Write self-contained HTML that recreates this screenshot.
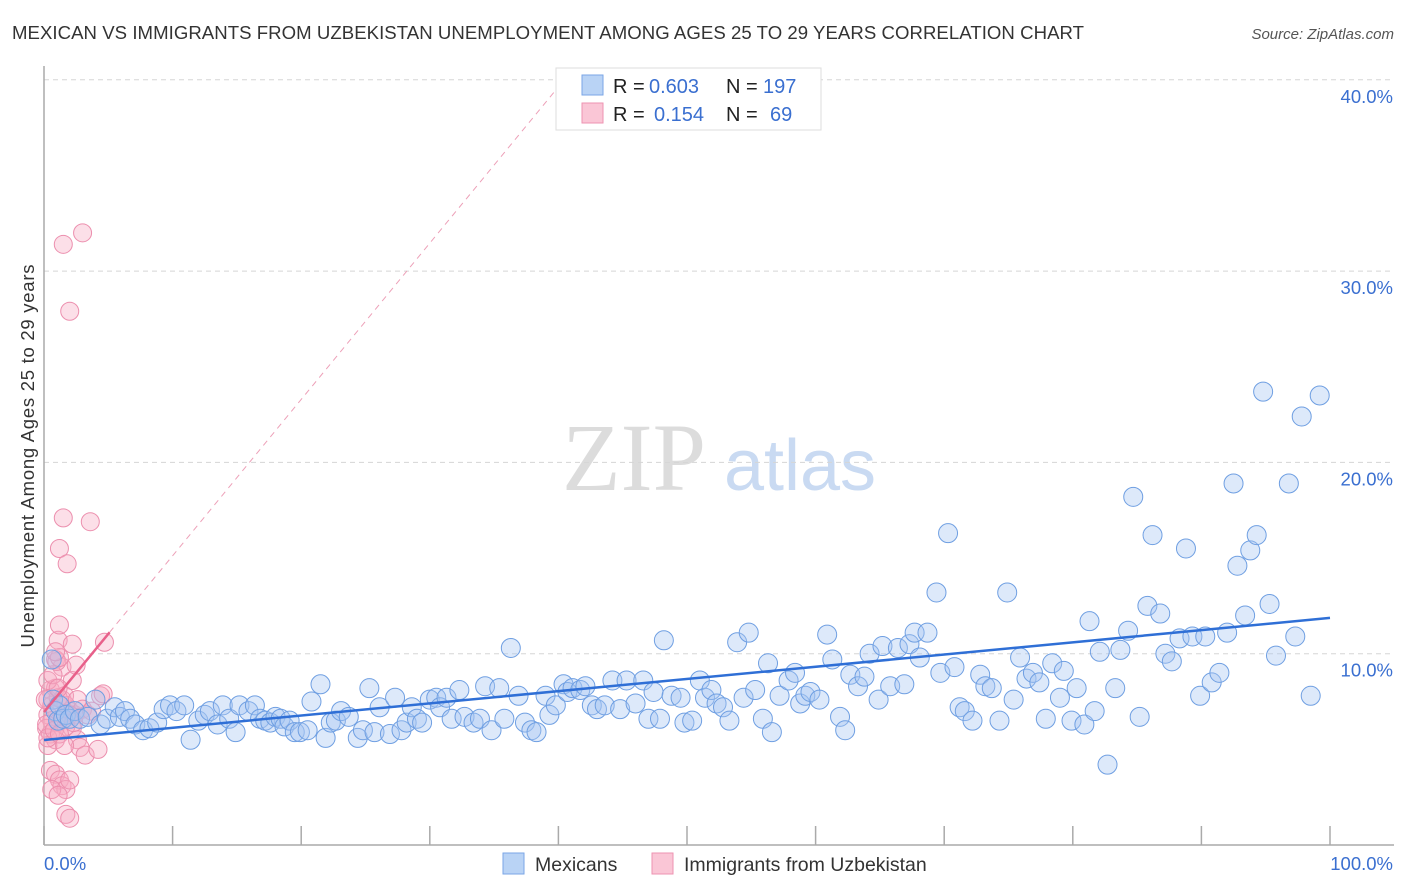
<!DOCTYPE html>
<html><head><meta charset="utf-8">
<style>
body{margin:0;background:#fff;font-family:"Liberation Sans",sans-serif;}
#wrap{position:relative;width:1406px;height:892px;overflow:hidden;}
</style></head>
<body>
<div id="wrap">
<svg id="svg" width="1406" height="892" xmlns="http://www.w3.org/2000/svg">
<text x="12" y="39" font-size="18.6" fill="#333" textLength="1072">MEXICAN VS IMMIGRANTS FROM UZBEKISTAN UNEMPLOYMENT AMONG AGES 25 TO 29 YEARS CORRELATION CHART</text>
<text x="1394" y="39" font-size="15" fill="#555" font-style="italic" text-anchor="end">Source: ZipAtlas.com</text>
<g>
<text x="634" y="490" font-size="96" font-family="Liberation Serif,serif" fill="#dcdcdc" text-anchor="middle">ZIP</text>
<text x="800" y="490" font-size="72" fill="#c9daf2" text-anchor="middle">atlas</text>
</g>
<g id="grid"></g>
<g id="axes"></g>
<g id="pinkPts"></g>
<g id="bluePts"></g>
<g id="trends"></g>
<text transform="translate(34,456) rotate(-90)" font-size="18.5" fill="#333" text-anchor="middle" textLength="383">Unemployment Among Ages 25 to 29 years</text>
<g>
<rect x="556" y="68" width="265" height="62" fill="#fff" stroke="#ddd"/>
<rect x="582" y="75" width="21" height="20" fill="#b9d3f5" stroke="#7aa6e6"/>
<rect x="582" y="103" width="21" height="20" fill="#fac6d6" stroke="#ee93b1"/>
<text x="613" y="93" font-size="20" fill="#222">R = <tspan x="649" fill="#3a6fd0">0.603</tspan><tspan x="726">N = </tspan><tspan x="763" fill="#3a6fd0">197</tspan></text>
<text x="613" y="121" font-size="20" fill="#222">R = <tspan x="654" fill="#3a6fd0">0.154</tspan><tspan x="726">N = </tspan><tspan x="770" fill="#3a6fd0">69</tspan></text>
</g>
<g>
<rect x="503" y="853" width="21" height="21" fill="#b9d3f5" stroke="#7aa6e6"/>
<text x="535" y="871" font-size="19.5" fill="#333">Mexicans</text>
<rect x="652" y="853" width="21" height="21" fill="#fac6d6" stroke="#ee93b1"/>
<text x="684" y="871" font-size="19.5" fill="#333">Immigrants from Uzbekistan</text>
</g>
</svg>
</div>
<script>
const blueX=[0.6,0.7,0.9,1.1,1.2,1.5,1.7,2.0,2.4,2.8,3.4,4.0,4.4,4.9,5.5,5.9,6.3,6.7,7.1,7.7,8.2,8.8,9.3,9.8,10.3,10.9,11.4,12.0,12.5,12.9,13.5,13.9,14.4,14.9,15.2,15.9,16.4,16.8,17.2,17.6,18.0,18.4,18.7,19.1,19.5,19.9,20.5,20.8,21.5,21.9,22.3,22.7,23.1,23.7,24.4,24.8,25.3,25.7,26.1,26.9,27.3,27.8,28.2,28.6,29.0,29.4,30.0,30.5,30.8,31.3,31.7,32.3,32.7,33.4,33.9,34.3,34.8,35.4,35.8,36.3,36.9,37.4,37.9,38.3,39.0,39.3,39.8,40.4,40.7,41.1,41.7,42.1,42.6,43.0,43.6,44.2,44.8,45.3,46.0,46.6,47.0,47.4,47.9,48.2,48.8,49.5,49.8,50.4,51.0,51.4,51.9,52.3,52.8,53.3,53.9,54.4,54.8,55.3,55.9,56.3,56.6,57.2,57.9,58.4,58.8,59.2,59.6,60.3,60.9,61.3,61.9,62.3,62.7,63.3,63.8,64.2,64.9,65.2,65.8,66.4,66.9,67.3,67.7,68.1,68.7,69.4,69.7,70.3,70.8,71.2,71.6,72.2,72.8,73.2,73.7,74.3,74.9,75.4,75.9,76.4,76.9,77.4,77.9,78.4,79.0,79.3,79.9,80.3,80.9,81.3,81.7,82.1,82.7,83.3,83.7,84.3,84.7,85.2,85.8,86.2,86.8,87.2,87.7,88.3,88.8,89.3,89.9,90.3,90.8,91.4,92.0,92.5,92.8,93.4,93.8,94.3,94.8,95.3,95.8,96.8,97.3,97.8,98.5,99.2];
const blueY=[9.7,7.6,7.0,6.5,7.3,6.6,6.8,6.6,7.0,6.6,6.7,7.6,6.3,6.6,7.2,6.7,7.0,6.6,6.3,6.0,6.1,6.4,7.1,7.3,7.0,7.3,5.5,6.5,6.8,7.0,6.3,7.3,6.6,5.9,7.3,7.0,7.3,6.6,6.5,6.4,6.7,6.6,6.2,6.5,5.9,5.9,6.0,7.5,8.4,5.6,6.4,6.5,7.0,6.7,5.6,6.0,8.2,5.9,7.2,5.8,7.7,6.0,6.4,7.2,6.6,6.4,7.6,7.7,7.2,7.7,6.6,8.1,6.7,6.4,6.6,8.3,6.0,8.2,6.6,10.3,7.8,6.4,6.0,5.9,7.8,6.8,7.3,8.4,8.0,8.2,8.1,8.3,7.3,7.1,7.3,8.6,7.1,8.6,7.4,8.6,6.6,8.0,6.6,10.7,7.8,7.7,6.4,6.5,8.6,7.7,8.1,7.4,7.2,6.5,10.6,7.7,11.1,8.1,6.6,9.5,5.9,7.8,8.6,9.0,7.4,7.8,8.0,7.6,11.0,9.7,6.7,6.0,8.9,8.3,8.8,10.0,7.6,10.4,8.3,10.3,8.4,10.5,11.1,9.8,11.1,13.2,9.0,16.3,9.3,7.2,7.0,6.5,8.9,8.3,8.2,6.5,13.2,7.6,9.8,8.7,9.0,8.5,6.6,9.5,7.7,9.1,6.5,8.2,6.3,11.7,7.0,10.1,4.2,8.2,10.2,11.2,18.2,6.7,12.5,16.2,12.1,10.0,9.6,10.8,15.5,10.9,7.8,10.9,8.5,9.0,11.1,18.9,14.6,12.0,15.4,16.2,23.7,12.6,9.9,18.9,10.9,22.4,7.8,23.5];
const pinkX=[1.5,3.0,2.0,1.5,3.6,1.2,1.8,1.1,1.2,2.2,4.7,0.9,1.4,0.5,0.9,0.3,0.6,0.9,0.3,0.6,1.1,0.2,0.5,0.9,0.3,1.4,1.7,2.0,2.4,2.2,1.1,1.6,2.6,3.0,3.4,3.7,4.4,4.6,2.5,2.0,2.2,2.6,2.8,3.2,4.2,0.5,0.9,1.2,1.4,1.7,2.0,0.6,1.1,1.7,2.0,0.3,0.7,1.0,1.2,0.9,0.1,0.2,0.3,1.1,1.7,2.3,0.8,1.2,1.6];
const pinkY=[31.4,32.0,27.9,17.1,16.9,15.5,14.7,10.7,11.5,10.5,10.6,9.7,9.3,8.1,8.2,7.6,7.3,7.1,6.8,6.5,6.4,6.1,5.8,5.5,5.2,7.6,7.3,7.0,6.8,8.6,7.7,7.8,7.6,7.1,6.8,7.0,7.8,7.9,9.4,6.8,6.1,5.5,5.1,4.7,5.0,3.9,3.7,3.4,3.1,2.9,3.4,2.9,2.6,1.6,1.4,8.6,8.9,9.6,9.8,10.1,7.6,6.3,5.6,8.2,6.2,6.4,6.0,5.8,5.2];
const blueTrend=[5.49,11.87]; // y at x=0 and x=100
const pinkTrend=[6.95,0.817]; // intercept, slope per x%
const pinkSolidEnd=5.1;
const yTicks=[10,20,30,40];
const yTickLabels=["10.0%","20.0%","30.0%","40.0%"];
const xTicks=[0,10,20,30,40,50,60,70,80,90,100];

const NS="http://www.w3.org/2000/svg";
const X0=44,X1=1330,Y0=845,Ypx10=191.3;
const sx=v=>X0+(X1-X0)*v/100;
const sy=v=>Y0-Ypx10*v/10;
function mk(tag,attrs,parent){const e=document.createElementNS(NS,tag);for(const k in attrs)e.setAttribute(k,attrs[k]);parent.appendChild(e);return e;}
const grid=document.getElementById('grid'),axes=document.getElementById('axes');
yTicks.forEach((t,i)=>{
  const l=mk('line',{x1:X0,x2:1394,y1:sy(t),y2:sy(t),stroke:'#d5d5d5','stroke-dasharray':'5,4'},grid);
  
  
  const tx=mk('text',{x:1393,y:sy(t)+23,'font-size':18.5,fill:'#3a6fd0','text-anchor':'end'},axes);
  tx.textContent=yTickLabels[i];
  
  
});
const ya=mk('line',{x1:X0,x2:X0,y1:66,y2:Y0,stroke:'#aaa','stroke-width':1.5},axes);


const xa=mk('line',{x1:X0,x2:1394,y1:Y0,y2:Y0,stroke:'#aaa','stroke-width':1.5},axes);


xTicks.forEach(t=>{
  const l=mk('line',{x1:sx(t),x2:sx(t),y1:826,y2:Y0,stroke:'#aaa','stroke-width':1.5},axes);
  
  
});
const xl0=mk('text',{x:44,y:870,'font-size':18.5,fill:'#3a6fd0'},axes);xl0.textContent='0.0%';


const xl1=mk('text',{x:1393,y:870,'font-size':18.5,fill:'#3a6fd0','text-anchor':'end'},axes);xl1.textContent='100.0%';



const pg=document.getElementById('pinkPts');
pinkX.forEach((x,i)=>{
  const c=mk('circle',{cx:sx(x),cy:sy(pinkY[i]),r:9,fill:'rgba(246,170,194,0.38)',stroke:'#ec8fae','stroke-width':1},pg);
  
  
});
const bg=document.getElementById('bluePts');
blueX.forEach((x,i)=>{
  const c=mk('circle',{cx:sx(x),cy:sy(blueY[i]),r:9.5,fill:'rgba(165,198,242,0.38)',stroke:'#6f9fe2','stroke-width':1},bg);
  
  
});
const tg=document.getElementById('trends');
const pf=x=>pinkTrend[0]+pinkTrend[1]*x;
const xd=(40-pinkTrend[0])/pinkTrend[1];
const pd=mk('line',{x1:sx(pinkSolidEnd),y1:sy(pf(pinkSolidEnd)),x2:sx(xd),y2:sy(40),stroke:'#eda0b8','stroke-width':1,'stroke-dasharray':'6,5'},tg);


const ps=mk('line',{x1:sx(0),y1:sy(pf(0)),x2:sx(pinkSolidEnd),y2:sy(pf(pinkSolidEnd)),stroke:'#e8608a','stroke-width':2.5},tg);


const bl=mk('line',{x1:sx(0),y1:sy(blueTrend[0]),x2:sx(100),y2:sy(blueTrend[1]),stroke:'#2f6fd6','stroke-width':2.5},tg);


</script>
</body></html>
